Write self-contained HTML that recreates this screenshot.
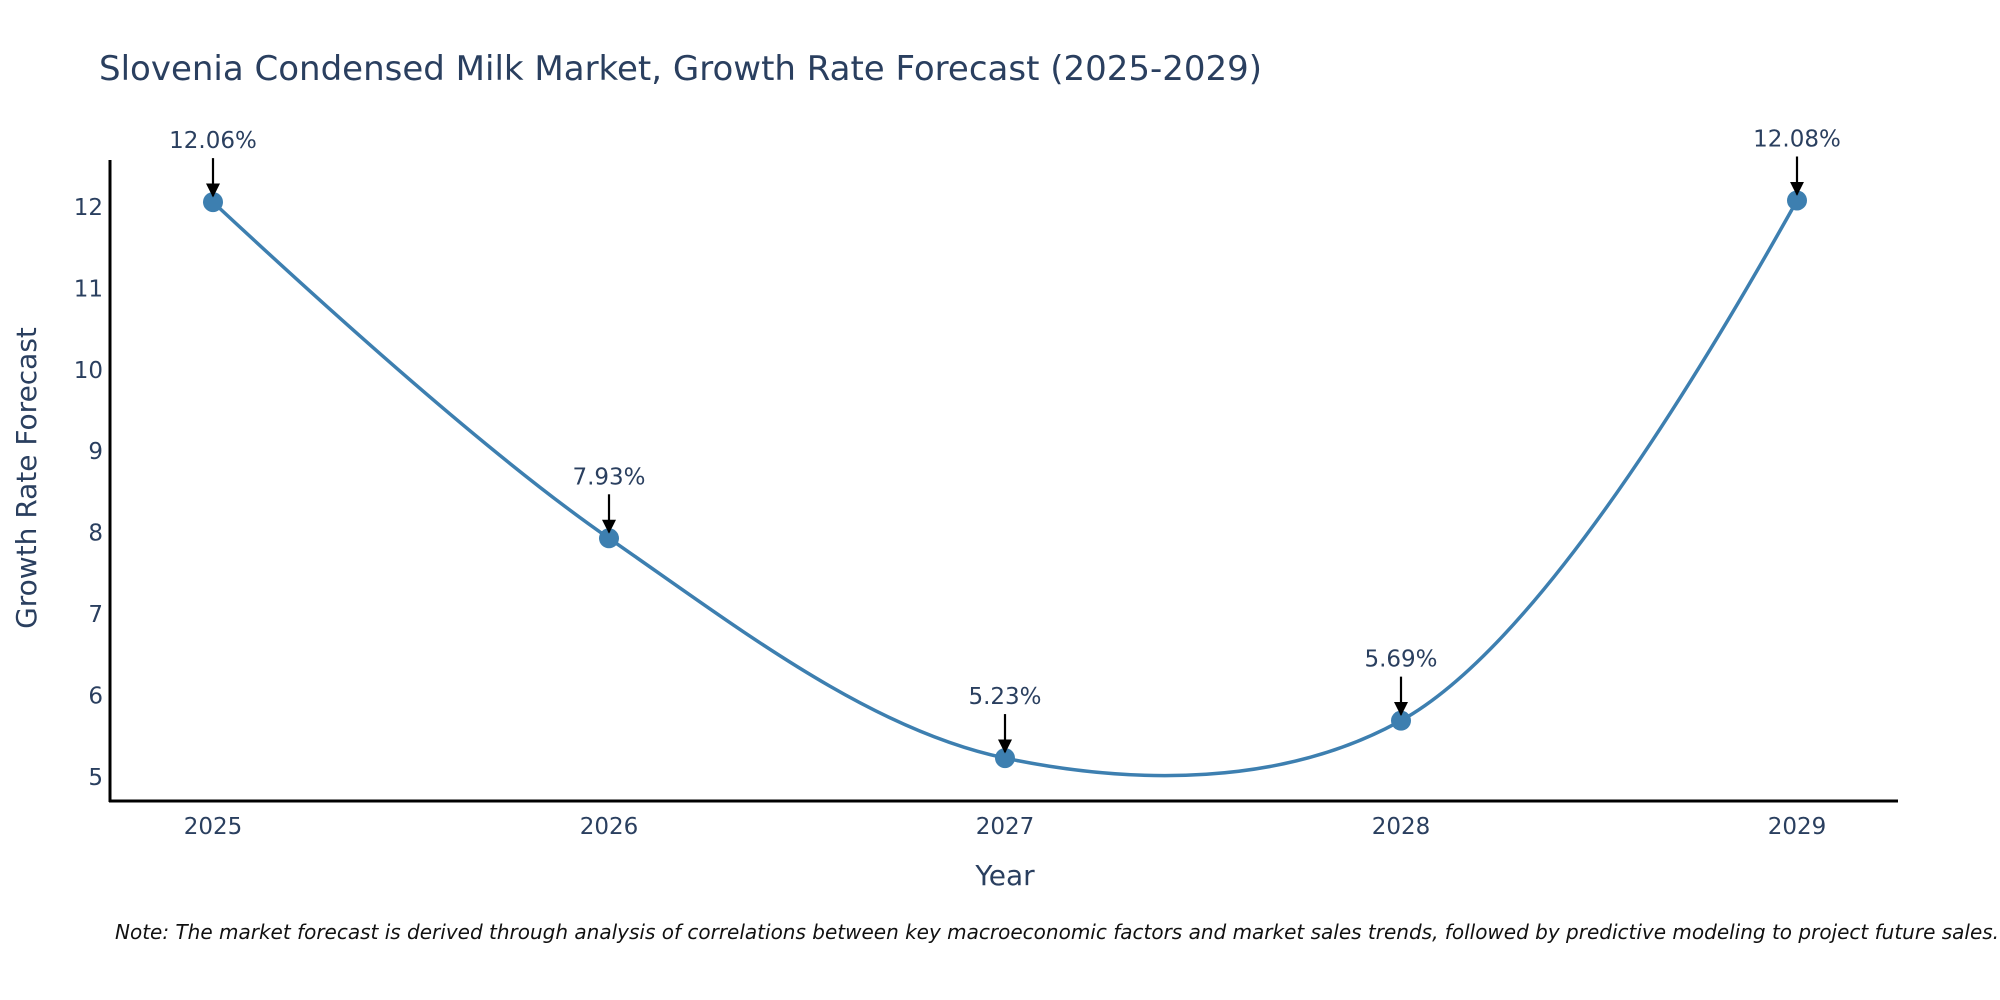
<!DOCTYPE html>
<html><head><meta charset="utf-8"><style>
html,body{margin:0;padding:0;background:#fff;width:2000px;height:1000px;overflow:hidden}
svg text{font-family:"DejaVu Sans","Liberation Sans",sans-serif}
</style></head><body>
<svg id="chart" width="2000" height="1000" viewBox="0 0 2000 1000">
<defs><marker id="ah" viewBox="0 0 10 10" refX="9" refY="5" markerWidth="14" markerHeight="14" markerUnits="userSpaceOnUse" orient="auto"><path d="M0,0 L10,5 L0,10 z" fill="#000"/></marker></defs>
<text x="99" y="80" font-size="34" fill="#2a3f5f">Slovenia Condensed Milk Market, Growth Rate Forecast (2025-2029)</text>
<g id="yticks"></g><g id="xticks"></g>
<line x1="110" y1="160" x2="110" y2="802" stroke="#000" stroke-width="3"/>
<line x1="109" y1="801" x2="1898" y2="801" stroke="#000" stroke-width="3"/>
<path id="line" fill="none" stroke="#3d7fb0" stroke-width="3.5"/>
<g id="marks"></g>
<text x="1005" y="885" font-size="28" fill="#2a3f5f" text-anchor="middle">Year</text>
<text transform="translate(36,478) rotate(-90)" font-size="28" fill="#2a3f5f" text-anchor="middle">Growth Rate Forecast</text>
<text x="115" y="939" font-size="20" font-style="italic" fill="#111">Note: The market forecast is derived through analysis of correlations between key macroeconomic factors and market sales trends, followed by predictive modeling to project future sales.</text>
</svg>
<script>
const years = [2025, 2026, 2027, 2028, 2029];
const growth = [12.06, 7.93, 5.23, 5.69, 12.08];
const labels = ["12.06%", "7.93%", "5.23%", "5.69%", "12.08%"];
const yTicks = [5, 6, 7, 8, 9, 10, 11, 12];
const NS = "http://www.w3.org/2000/svg";
function xs(y){return 213 + (y - 2025) * 396;}
function ys(v){return 207 + (12 - v) * 81.4;}
function mk(tag, attrs, parent){const e=document.createElementNS(NS,tag);for(const k in attrs)e.setAttribute(k,attrs[k]);parent.appendChild(e);return e;}
const yt=document.getElementById('yticks');
yTicks.forEach(v=>{const t=mk('text',{x:103,y:ys(v)+8,'font-size':23,fill:'#2a3f5f','text-anchor':'end'},yt);


t.textContent=v;});
const xt=document.getElementById('xticks');
years.forEach(y=>{const t=mk('text',{x:xs(y),y:834,'font-size':23,fill:'#2a3f5f','text-anchor':'middle'},xt);


t.textContent=y;});
const pts=years.map((y,i)=>[xs(y),ys(growth[i])]);
function tan(p0,p1,p2){const dxa=p0[0]-p1[0],dya=p0[1]-p1[1],dxb=p2[0]-p1[0],dyb=p2[1]-p1[1];
const A=Math.pow(dxa*dxa+dya*dya,0.25),B=Math.pow(dxb*dxb+dyb*dyb,0.25);
const nx=(B*B*dxa-A*A*dxb),ny=(B*B*dya-A*A*dyb);const dA=3*B*(A+B),dB=3*A*(A+B);
return [[p1[0]+nx/dA,p1[1]+ny/dA],[p1[0]-nx/dB,p1[1]-ny/dB]];}
const T=[];for(let i=1;i<pts.length-1;i++)T.push(tan(pts[i-1],pts[i],pts[i+1]));
let d=`M${pts[0]}Q${T[0][0]} ${pts[1]}`;
for(let i=2;i<pts.length-1;i++)d+=`C${T[i-2][1]} ${T[i-1][0]} ${pts[i]}`;
d+=`Q${T[T.length-1][1]} ${pts[pts.length-1]}`;
document.getElementById('line').setAttribute('d',d);
const g=document.getElementById('marks');
years.forEach((y,i)=>{const cx=xs(y),cy=ys(growth[i]);
const c=mk('circle',{cx:cx,cy:cy,r:10,fill:'#3d7fb0'},g);


const a=mk('line',{x1:cx,y1:cy-44,x2:cx,y2:cy-6,stroke:'#000','stroke-width':2.2,'marker-end':'url(#ah)'},g);


const t=mk('text',{x:cx,y:cy-54,'font-size':23,fill:'#2a3f5f','text-anchor':'middle'},g);


t.textContent=labels[i];});
</script>
</body></html>
